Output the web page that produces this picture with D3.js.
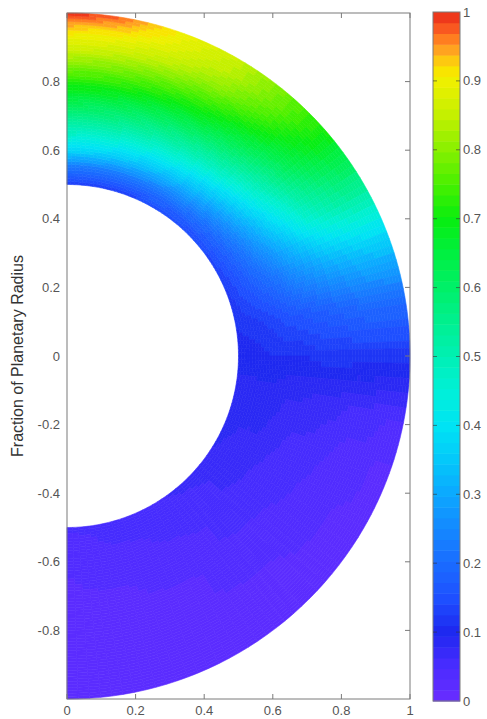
<!DOCTYPE html>
<html>
<head>
<meta charset="utf-8">
<script src="https://cdn.jsdelivr.net/npm/d3@7"></script>
<style>
  body { margin: 0; background: #fff; }
  svg text { font-family: Arial, "Liberation Sans", sans-serif; }
</style>
</head>
<body>
<svg id="chart" width="487" height="719"></svg>
<script>
//DATA
// radial grid (fraction of planetary radius) and angle grid (degrees from the +x axis)
var radii = [0.5, 0.55, 0.6, 0.65, 0.7, 0.75, 0.8, 0.85, 0.9, 0.95, 1.0];
var angles = [90, 80, 70, 60, 50, 40, 30, 20, 10, 0, -10, -20, -30, -45, -60, -75, -90];

// field values, one row per angle, one column per radius
var field = [
  [.12, .22, .38, .48, .56, .65, .72, .80, .87, .92, 1.0],
  [.12, .22, .37, .47, .56, .64, .72, .79, .86, .91, .97],
  [.13, .22, .35, .45, .54, .62, .70, .77, .84, .88, .90],
  [.14, .22, .33, .43, .52, .60, .68, .74, .80, .84, .86],
  [.14, .21, .30, .39, .48, .56, .63, .69, .74, .77, .78],
  [.14, .19, .26, .34, .42, .49, .56, .62, .66, .69, .70],
  [.13, .17, .22, .28, .34, .40, .46, .50, .53, .55, .55],
  [.12, .15, .18, .21, .25, .28, .31, .33, .35, .36, .36],
  [.11, .12, .13, .15, .16, .17, .18, .19, .20, .20, .20],
  [.10, .10, .11, .11, .11, .12, .12, .12, .12, .12, .12],
  [.09, .09, .09, .08, .08, .07, .07, .06, .06, .05, .05],
  [.09, .08, .08, .07, .06, .06, .05, .04, .04, .03, .03],
  [.08, .07, .07, .06, .05, .05, .04, .04, .03, .03, .03],
  [.07, .06, .06, .05, .05, .04, .04, .03, .03, .03, .02],
  [.06, .05, .05, .04, .04, .03, .03, .03, .02, .02, .02],
  [.05, .05, .04, .04, .03, .03, .03, .02, .02, .02, .02],
  [.05, .04, .04, .03, .03, .03, .02, .02, .02, .02, .02]
];

// colormap stops
var cmapValues = [0, .05, .10, .15, .20, .25, .30, .35, .40, .45, .50, .55, .60, .65, .70, .75, .80, .85, .90, .92, .94, .96, .98, 1];
var cmapColors = ["#6a2cff", "#4a2cff", "#1e28f0", "#1e50ff", "#1a6cff", "#1488ff", "#0ca8ff", "#04c8fa",
  "#00e4f4", "#00f0d8", "#00f0b4", "#00f090", "#00f068", "#00f040", "#08ee10", "#48f000",
  "#88f000", "#c4f000", "#eef000", "#fce000", "#ffb020", "#ff8020", "#f85020", "#e82818"];

var xTicks = [0, 0.2, 0.4, 0.6, 0.8, 1];
var yTicks = [0.8, 0.6, 0.4, 0.2, 0, -0.2, -0.4, -0.6, -0.8];
var cbTicks = [0, 0.1, 0.2, 0.3, 0.4, 0.5, 0.6, 0.7, 0.8, 0.9, 1];

//LAYOUT
var nLevels = 64;
var svg = d3.select("#chart");
var axisColor = "#7a7a7a";
var labelColor = "#555";

var x = d3.scaleLinear().domain([0, 1]).range([67, 410]);
var y = d3.scaleLinear().domain([-1, 1]).range([699, 13]);
var k = x(1) - x(0); // pixels per unit

var cmap = d3.scaleLinear().domain(cmapValues).range(cmapColors).interpolate(d3.interpolateRgb);
var colorOf = v => {
  let lvl = Math.max(0, Math.min(nLevels - 1, Math.floor(v * nLevels)));
  return cmap((lvl + 0.5) / nLevels);
};

//FIELD (interpolated shading between grid nodes)
var fieldG = svg.append("g").attr("transform", "translate(" + x(0) + "," + y(0) + ")");
var arc = d3.arc();
var subR = 6, subT = 8;
var toA = deg => Math.PI / 2 - deg * Math.PI / 180;
var cells = [];
for (let i = 0; i < angles.length - 1; i++) {
  for (let j = 0; j < radii.length - 1; j++) {
    let v00 = field[i][j], v01 = field[i][j + 1], v10 = field[i + 1][j], v11 = field[i + 1][j + 1];
    for (let a = 0; a < subT; a++) {
      for (let b = 0; b < subR; b++) {
        let ta = (a + 0.5) / subT, rb = (b + 0.5) / subR;
        let v = (1 - ta) * ((1 - rb) * v00 + rb * v01) + ta * ((1 - rb) * v10 + rb * v11);
        let t0 = angles[i] + (angles[i + 1] - angles[i]) * a / subT;
        let t1 = angles[i] + (angles[i + 1] - angles[i]) * (a + 1) / subT;
        let r0 = radii[j] + (radii[j + 1] - radii[j]) * b / subR;
        let r1 = radii[j] + (radii[j + 1] - radii[j]) * (b + 1) / subR;
        cells.push({v: v, t0: t0, t1: t1, r0: r0, r1: r1});
      }
    }
  }
}
fieldG.selectAll("path").data(cells).join("path")
  .attr("d", d => arc({innerRadius: d.r0 * k, outerRadius: d.r1 * k, startAngle: toA(d.t0), endAngle: toA(d.t1)}))
  .attr("fill", d => colorOf(d.v))
  .attr("stroke", d => colorOf(d.v))
  .attr("stroke-width", 0.6);

//AXES BOX + TICKS
var box = svg.append("g");
box.append("rect")
  .attr("x", x(0)).attr("y", y(1))
  .attr("width", x(1) - x(0)).attr("height", y(-1) - y(1))
  .attr("fill", "none").attr("stroke", axisColor).attr("stroke-width", 1);

var tl = 5;
box.selectAll(".xtb").data(xTicks).join("line")
  .attr("class", "xtb")
  .attr("x1", d => x(d)).attr("x2", d => x(d))
  .attr("y1", y(-1)).attr("y2", y(-1) - tl)
  .attr("stroke", axisColor);
box.selectAll(".xtt").data(xTicks).join("line")
  .attr("class", "xtt")
  .attr("x1", d => x(d)).attr("x2", d => x(d))
  .attr("y1", y(1)).attr("y2", y(1) + tl)
  .attr("stroke", axisColor);
box.selectAll(".ytr").data(yTicks).join("line")
  .attr("class", "ytr")
  .attr("x1", x(1)).attr("x2", x(1) - tl)
  .attr("y1", d => y(d)).attr("y2", d => y(d))
  .attr("stroke", axisColor);

// plain hyphen minus, as in the original figure
var fmt = d => String(d);

svg.append("g").selectAll("text").data(xTicks).join("text")
  .attr("x", d => x(d)).attr("y", 715)
  .attr("text-anchor", "middle")
  .attr("font-size", 13).attr("fill", labelColor)
  .text(fmt);

svg.append("g").selectAll("text").data(yTicks).join("text")
  .attr("x", 60).attr("y", d => y(d)).attr("dy", "0.35em")
  .attr("text-anchor", "end")
  .attr("font-size", 13).attr("fill", labelColor)
  .text(fmt);

svg.append("text")
  .attr("transform", "translate(23," + y(0) + ") rotate(-90)")
  .attr("text-anchor", "middle")
  .attr("font-size", 16).attr("fill", "#333")
  .text("Fraction of Planetary Radius");

//COLORBAR
var cbX = 433, cbW = 27;
var cb = d3.scaleLinear().domain([0, 1]).range([701, 12]);
var levels = d3.range(nLevels);
svg.append("g").selectAll("rect").data(levels).join("rect")
  .attr("x", cbX)
  .attr("y", d => cb((d + 1) / nLevels))
  .attr("width", cbW)
  .attr("height", d => cb(d / nLevels) - cb((d + 1) / nLevels) + 0.5)
  .attr("fill", d => cmap((d + 0.5) / nLevels));
svg.append("rect")
  .attr("x", cbX).attr("y", cb(1)).attr("width", cbW).attr("height", cb(0) - cb(1))
  .attr("fill", "none").attr("stroke", axisColor);
var cbt = svg.append("g");
cbt.selectAll(".l").data(cbTicks.slice(1, -1)).join("line")
  .attr("class", "l")
  .attr("x1", cbX).attr("x2", cbX + 4).attr("y1", d => cb(d)).attr("y2", d => cb(d))
  .attr("stroke", "#333").attr("stroke-opacity", 0.6);
cbt.selectAll(".r").data(cbTicks.slice(1, -1)).join("line")
  .attr("class", "r")
  .attr("x1", cbX + cbW).attr("x2", cbX + cbW - 4).attr("y1", d => cb(d)).attr("y2", d => cb(d))
  .attr("stroke", "#333").attr("stroke-opacity", 0.6);
cbt.selectAll("text").data(cbTicks).join("text")
  .attr("x", cbX + cbW + 3).attr("y", d => cb(d)).attr("dy", "0.35em")
  .attr("font-size", 13).attr("fill", labelColor)
  .text(fmt);
</script>
</body>
</html>
